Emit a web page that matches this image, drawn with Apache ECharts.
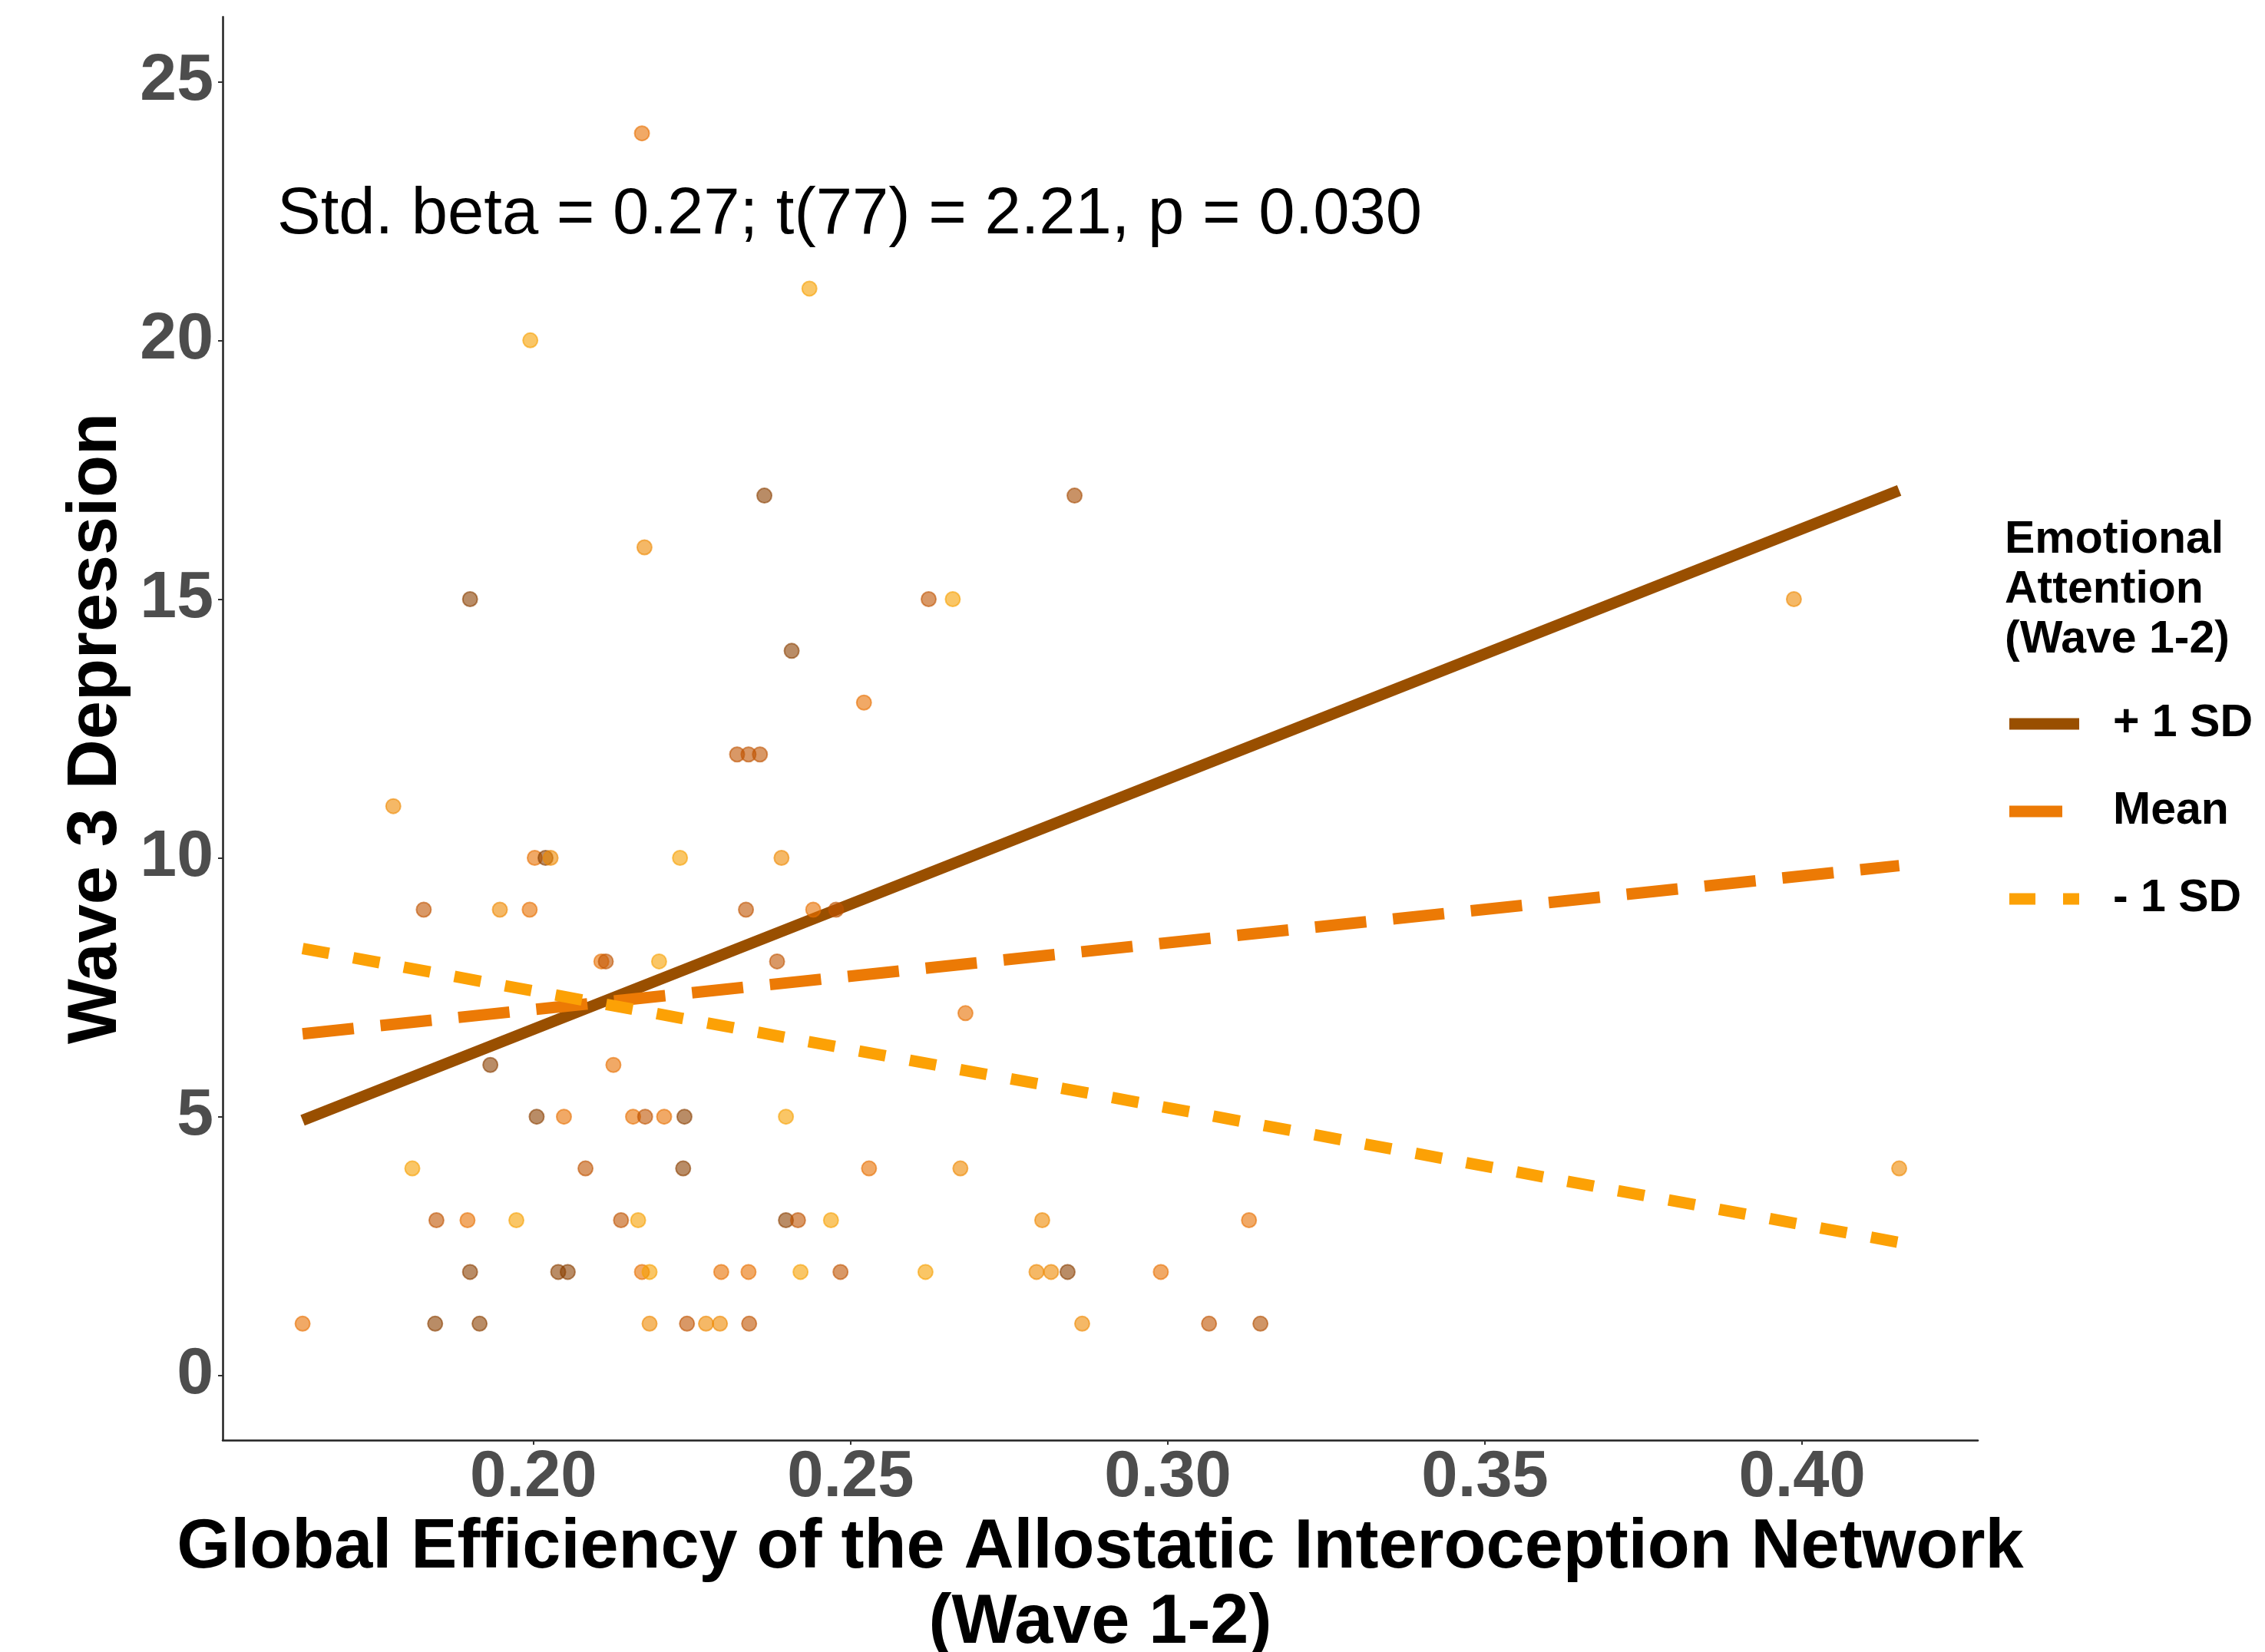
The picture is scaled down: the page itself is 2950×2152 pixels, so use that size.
<!DOCTYPE html>
<html>
<head>
<meta charset="utf-8">
<script src="https://cdn.jsdelivr.net/npm/echarts@6/dist/echarts.min.js"></script>
<style>
  html, body { margin: 0; padding: 0; background: #fff; }
  #chart { width: 2950px; height: 2152px; }
</style>
</head>
<body>
<div id="chart"></div>
<script>
  // participants: global efficiency (x), wave 3 depression (y),
  // emotional attention shade (0 = high / dark brown ... 4 = low / yellow)
  var pointX = [
    0.2171,
    0.2435,
    0.1995,
    0.2364, 0.2853,
    0.2175,
    0.1900, 0.2623, 0.2661, 0.3987,
    0.2407,
    0.2521,
    0.2321, 0.2339, 0.2357,
    0.1779,
    0.2002, 0.2019, 0.2027, 0.2231, 0.2391,
    0.1827, 0.1947, 0.1994, 0.2335, 0.2441, 0.2477,
    0.2107, 0.2114, 0.2198, 0.2384,
    0.2681,
    0.1932, 0.2126,
    0.2005, 0.2048, 0.2157, 0.2176, 0.2206, 0.2238, 0.2398,
    0.1809, 0.2082, 0.2236, 0.2529, 0.2673, 0.4153,
    0.1847, 0.1896, 0.1973, 0.2138, 0.2165, 0.2398, 0.2417, 0.2469, 0.2802, 0.3128,
    0.1900, 0.2039, 0.2054, 0.2171, 0.2183, 0.2296, 0.2339, 0.2421, 0.2484, 0.2618, 0.2793, 0.2816, 0.2842, 0.2989,
    0.1636, 0.1845, 0.1915, 0.2183, 0.2242, 0.2272, 0.2294, 0.2340, 0.2865, 0.3065, 0.3146
  ];
  var pointY = [
    24,
    21,
    20,
    17, 17,
    16,
    15, 15, 15, 15,
    14,
    13,
    12, 12, 12,
    11,
    10, 10, 10, 10, 10,
    9, 9, 9, 9, 9, 9,
    8, 8, 8, 8,
    7,
    6, 6,
    5, 5, 5, 5, 5, 5, 5,
    4, 4, 4, 4, 4, 4,
    3, 3, 3, 3, 3, 3, 3, 3, 3, 3,
    2, 2, 2, 2, 2, 2, 2, 2, 2, 2, 2, 2, 2, 2,
    1, 1, 1, 1, 1, 1, 1, 1, 1, 1, 1
  ];
  var pointLevel = [
    2,
    4,
    4,
    0, 0.5,
    3,
    0, 1, 4, 3,
    0,
    2,
    1, 1, 1,
    3,
    2, 0, 3, 4, 3,
    1, 3, 2, 1, 2, 1,
    2, 1, 4, 1,
    2,
    0, 2,
    0, 2, 2, 1, 2, 0, 4,
    4, 1, 0, 2, 3, 3,
    1, 2, 4, 1, 4, 0, 1, 4, 3, 2,
    0, 0, 0, 2, 4, 2, 2, 4, 1, 4, 3, 3, 0, 2,
    2, 0, 0, 3, 1, 3, 3, 1, 3, 1, 0.7
  ];

  // simple slopes at +1 SD / mean / -1 SD of emotional attention
  var lineX = [0.1636, 0.4153];
  var plusSD = [4.93, 17.10];
  var meanLine = [6.60, 9.85];
  var minusSD = [8.25, 2.57];

  var xTicks = [0.20, 0.25, 0.30, 0.35, 0.40];
  var yTicks = [0, 5, 10, 15, 20, 25];
  var lineNames = ['+ 1 SD', 'Mean', '- 1 SD'];
  var lineColors = ['#994F00', '#EC7A05', '#FCA105'];

  var FONT = "'Liberation Sans', Arial, Helvetica, sans-serif";
  var shades = ['#8A4000', '#C05400', '#E87000', '#EE8800', '#F6A000'];
  // legend keys drawn like ggplot's: solid, one long dash, two short dashes
  var legendIcons = [
    'path://M0,0H91V15H0Z',
    'path://M0,0H69V15H0Z M91,0V15',
    'path://M0,0H34V15H0Z M70,0H91V15H70Z'
  ];

  function hexToRgb(h) {
    return [parseInt(h.substr(1, 2), 16), parseInt(h.substr(3, 2), 16), parseInt(h.substr(5, 2), 16)];
  }
  function shadeColor(v) {
    var i = Math.min(Math.floor(v), shades.length - 2);
    var t = v - i;
    var a = hexToRgb(shades[i]), b = hexToRgb(shades[i + 1]);
    var c = a.map(function (x, k) { return Math.round(x + (b[k] - x) * t); });
    return 'rgb(' + c.join(',') + ')';
  }

  var scatterData = pointX.map(function (x, i) {
    var col = shadeColor(pointLevel[i]);
    return { value: [x, pointY[i]], itemStyle: { color: col, borderColor: col } };
  });
  function lineData(ys) {
    return lineX.map(function (x, i) { return [x, ys[i]]; });
  }

  var myChart = echarts.init(document.getElementById('chart'), null, { renderer: 'canvas' });
  var option = {
    backgroundColor: '#ffffff',
    animation: false,
    grid: { left: 290, right: 374, top: 22, bottom: 276 },
    xAxis: {
      type: 'value',
      min: 0.151,
      max: 0.4277,
      axisLine: { show: true, onZero: false, lineStyle: { color: '#222', width: 2.5 } },
      axisTick: { show: true, length: 6, customValues: xTicks, lineStyle: { color: '#333', width: 2 } },
      axisLabel: {
        customValues: xTicks,
        margin: 7,
        fontSize: 85,
        fontWeight: 'bold',
        fontFamily: FONT,
        color: '#4D4D4D',
        formatter: function (v) { return v.toFixed(2); }
      },
      splitLine: { show: false }
    },
    yAxis: {
      type: 'value',
      min: -1.25,
      max: 26.25,
      axisLine: { show: true, onZero: false, lineStyle: { color: '#222', width: 2.5 } },
      axisTick: { show: true, length: 6, customValues: yTicks, lineStyle: { color: '#333', width: 2 } },
      axisLabel: {
        customValues: yTicks,
        margin: 12,
        fontSize: 86,
        fontWeight: 'bold',
        fontFamily: FONT,
        color: '#4D4D4D',
        formatter: function (v) { return String(Math.round(v)); }
      },
      splitLine: { show: false }
    },
    legend: {
      data: lineNames.map(function (n, i) {
        return { name: n, icon: legendIcons[i], itemStyle: { color: lineColors[i], borderWidth: 0 } };
      }),
      orient: 'vertical',
      left: 2617,
      top: 913,
      padding: 0,
      itemWidth: 91,
      itemHeight: 15,
      itemGap: 54,
      selectedMode: false,
      textStyle: {
        fontSize: 59,
        fontWeight: 'bold',
        fontFamily: FONT,
        color: '#000',
        lineHeight: 60,
        padding: [0, 0, 0, 39]
      }
    },
    graphic: [
      {
        type: 'text', x: 361, y: 281,
        style: {
          text: 'Std. beta = 0.27; t(77) = 2.21, p = 0.030',
          font: 'normal 85px ' + FONT, fill: '#000',
          textAlign: 'left', textVerticalAlign: 'middle'
        }
      },
      {
        type: 'text', x: 1433, y: 2066,
        style: {
          text: 'Global Efficiency of the Allostatic Interoception Network\n(Wave 1-2)',
          font: 'bold 90px ' + FONT, fill: '#000', lineHeight: 98,
          textAlign: 'center', textVerticalAlign: 'middle'
        }
      },
      {
        type: 'text', x: 126, y: 949, rotation: Math.PI / 2,
        style: {
          text: 'Wave 3 Depression',
          font: 'bold 90px ' + FONT, fill: '#000',
          textAlign: 'center', textVerticalAlign: 'middle'
        }
      },
      {
        type: 'text', x: 2611, y: 769,
        style: {
          text: 'Emotional\nAttention\n(Wave 1-2)',
          font: 'bold 59px ' + FONT, fill: '#000', lineHeight: 65,
          textAlign: 'left', textVerticalAlign: 'middle'
        }
      }
    ],
    series: [
      {
        name: '+ 1 SD', type: 'line', data: lineData(plusSD),
        symbol: 'none', color: lineColors[0], silent: true, z: 2,
        lineStyle: { color: lineColors[0], width: 15, type: 'solid', cap: 'butt' }
      },
      {
        name: 'Mean', type: 'line', data: lineData(meanLine),
        symbol: 'none', color: lineColors[1], silent: true, z: 3,
        lineStyle: { color: lineColors[1], width: 15, type: [67, 35], cap: 'butt' }
      },
      {
        name: '- 1 SD', type: 'line', data: lineData(minusSD),
        symbol: 'none', color: lineColors[2], silent: true, z: 4,
        lineStyle: { color: lineColors[2], width: 15, type: [35, 32], cap: 'butt' }
      },
      {
        name: 'points', type: 'scatter', data: scatterData,
        symbolSize: 19, z: 5,
        itemStyle: { opacity: 0.6, borderWidth: 2 }
      }
    ]
  };
  myChart.setOption(option);
</script>
</body>
</html>
